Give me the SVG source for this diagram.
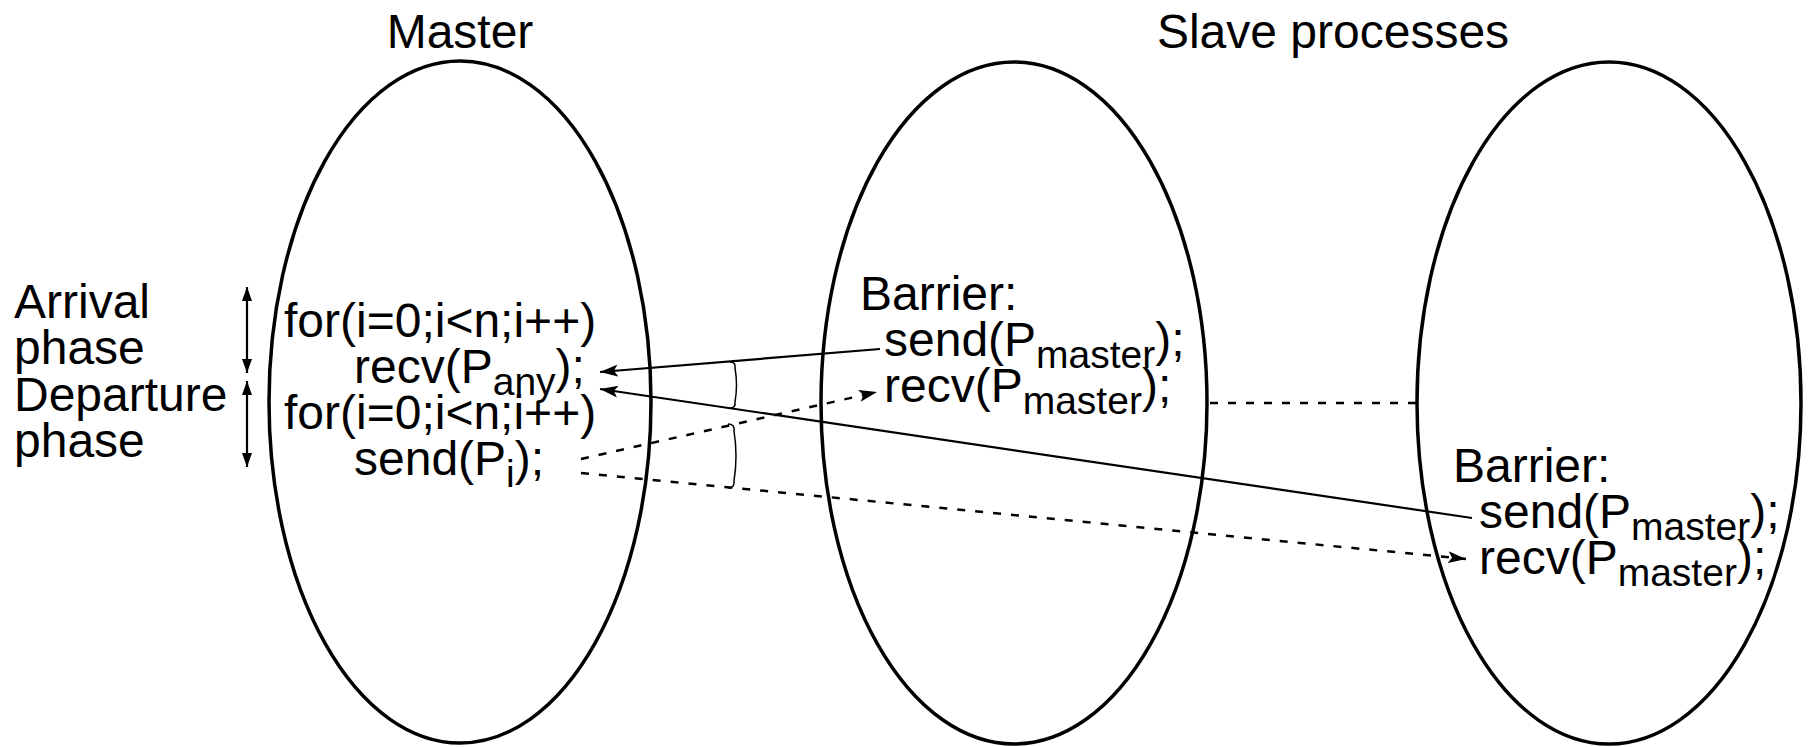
<svg xmlns="http://www.w3.org/2000/svg" width="1810" height="747" viewBox="0 0 1810 747">
<style>
text{font-family:"Liberation Sans",Arial,sans-serif;font-size:48px;fill:#000}
.sub{font-size:39px}
.ell{fill:none;stroke:#000;stroke-width:3.5}
.solid{fill:none;stroke:#000;stroke-width:2.2}
.dash{fill:none;stroke:#000;stroke-width:2.5;stroke-dasharray:8 10}
.brk{fill:none;stroke:#000;stroke-width:1.5}
</style>
<defs>
<marker id="ah" viewBox="0 0 18 12" refX="18" refY="6" markerWidth="18" markerHeight="12" markerUnits="userSpaceOnUse" orient="auto">
<path d="M0,0 L18,6 L0,12 L4,6 Z" fill="#000"/>
</marker>
<marker id="ah2" viewBox="0 0 14 10" refX="14" refY="5" markerWidth="14" markerHeight="10" markerUnits="userSpaceOnUse" orient="auto-start-reverse">
<path d="M0,0 L14,5 L0,10 Z" fill="#000"/>
</marker>
</defs>
<text x="460" y="48" text-anchor="middle">Master</text>
<text x="1333" y="48" text-anchor="middle">Slave processes</text>
<g id="phases">
<text x="14" y="318">Arrival</text>
<text x="14" y="364">phase</text>
<text x="14" y="411">Departure</text>
<text x="14" y="457">phase</text>
<line class="solid" x1="247" y1="287" x2="247" y2="373" stroke-width="2.5" marker-start="url(#ah2)" marker-end="url(#ah2)"/>
<line class="solid" x1="247" y1="381" x2="247" y2="467" stroke-width="2.5" marker-start="url(#ah2)" marker-end="url(#ah2)"/>
</g>
<g id="master">
<ellipse class="ell" cx="460" cy="402" rx="191" ry="341"/>
<text x="284" y="337">for(i=0;i&lt;n;i++)</text>
<text x="354" y="383">recv(P<tspan class="sub" dy="12">any</tspan><tspan dy="-12">);</tspan></text>
<text x="284" y="429">for(i=0;i&lt;n;i++)</text>
<text x="354" y="475">send(P<tspan class="sub" dy="12">i</tspan><tspan dy="-12">);</tspan></text>
</g>
<g id="slave1">
<ellipse class="ell" cx="1014" cy="403" rx="193" ry="341"/>
<text x="860" y="310">Barrier:</text>
<text x="884" y="356">send(P<tspan class="sub" dy="12">master</tspan><tspan dy="-12">);</tspan></text>
<text x="884" y="402">recv(P<tspan class="sub" dy="12">master</tspan><tspan dy="-12">);</tspan></text>
</g>
<g id="slave2">
<ellipse class="ell" cx="1609" cy="403" rx="192" ry="341"/>
<text x="1453" y="482">Barrier:</text>
<text x="1479" y="528">send(P<tspan class="sub" dy="12">master</tspan><tspan dy="-12">);</tspan></text>
<text x="1479" y="574">recv(P<tspan class="sub" dy="12">master</tspan><tspan dy="-12">);</tspan></text>
</g>
<g id="connectors">
<line class="solid" x1="880" y1="349" x2="600" y2="372" marker-end="url(#ah)"/>
<line class="solid" x1="1472" y1="518" x2="600" y2="389" marker-end="url(#ah)"/>
<line class="dash" x1="581" y1="459" x2="877" y2="392" marker-end="url(#ah)"/>
<line class="dash" x1="581" y1="473" x2="1466" y2="559" marker-end="url(#ah)"/>
<line class="dash" x1="1210" y1="403" x2="1417" y2="403"/>
<path class="brk" d="M730,362 Q736,362 735,368 Q738,385 735,402 Q736,408 730,408"/>
<path class="brk" d="M728,424 Q735,424 734,431 Q738,456 734,481 Q735,488 728,488"/>
</g>
</svg>
